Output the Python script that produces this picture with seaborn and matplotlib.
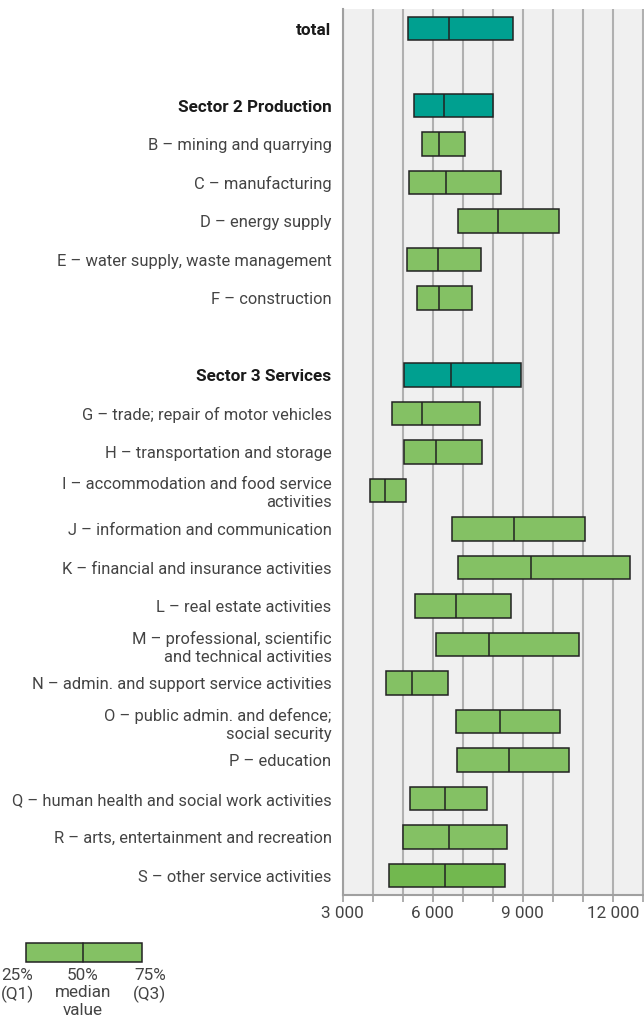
import matplotlib
matplotlib.use("Agg")
import matplotlib.pyplot as plt
from matplotlib.ticker import FixedLocator, FuncFormatter
from matplotlib.patches import Rectangle
import seaborn as sns
import pandas as pd
import numpy as np

sns.set_theme(style="white")
plt.rcParams['font.family'] = ['Roboto', 'DejaVu Sans']

# ---- data ----
categories = [
    "total",
    "Sector 2 Production",
    "B – mining and quarrying",
    "C – manufacturing",
    "D – energy supply",
    "E – water supply, waste management",
    "F – construction",
    "Sector 3 Services",
    "G – trade; repair of motor vehicles",
    "H – transportation and storage",
    "I – accommodation and food service\nactivities",
    "J – information and communication",
    "K – financial and insurance activities",
    "L – real estate activities",
    "M – professional, scientific\nand technical activities",
    "N – admin. and support service activities",
    "O – public admin. and defence;\nsocial security",
    "P – education",
    "Q – human health and social work activities",
    "R – arts, entertainment and recreation",
    "S – other service activities",
]
q1 = [5160, 5370, 5630, 5220, 6850, 5150, 5470, 5050, 4630, 5050, 3910, 6650,
      6850, 5410, 6100, 4430, 6790, 6810, 5240, 5000, 4530]
median = [6530, 6390, 6220, 6440, 8190, 6180, 6220, 6620, 5630, 6100, 4420, 8710,
          9270, 6770, 7870, 5320, 8250, 8550, 6400, 6550, 6400]
q3 = [8670, 8000, 7090, 8290, 10200, 7600, 7320, 8930, 7590, 7630, 5100, 11090,
      12570, 8600, 10870, 6520, 10250, 10550, 7820, 8490, 8400]
headers = ["total", "Sector 2 Production", "Sector 3 Services"]
x_ticks = [3000, 6000, 9000, 12000]

# slot order with blank gap rows
order = (["total", " "] + categories[1:7] + ["  "] + categories[7:])

TEAL = "#00a090"
GREEN = "#84c164"
GREEN_S = "#72b84f"
FS = 11.9

rows = []
for c, a, m, b in zip(categories, q1, median, q3):
    for v in (a, a, m, b, b):
        rows.append({"cat": c, "value": v})
df = pd.DataFrame(rows)

palette = {c: (TEAL if c in headers else GREEN) for c in categories}
palette["S – other service activities"] = GREEN_S

fig = plt.figure(figsize=(6.44, 10.28), dpi=100)
ax = fig.add_axes([342.7 / 644, 1 - 895 / 1028, 1 - 342.7 / 644, (895 - 9.3) / 1028])
ax.set_facecolor("#f0f0f0")

sns.boxplot(data=df, x="value", y="cat", hue="cat", order=order, palette=palette,
            legend=False, orient="h", width=0.61, whis=0, showcaps=False,
            showfliers=False, linecolor="#222222", linewidth=1.1,
            saturation=1, ax=ax, zorder=3)

ax.set_xlim(3000, 13043)
ax.set_ylim(len(order) - 0.5, -0.5)
ax.xaxis.set_major_locator(FixedLocator(x_ticks))
ax.xaxis.set_minor_locator(FixedLocator(np.arange(3000, 13001, 1000)))
ax.xaxis.set_major_formatter(FuncFormatter(lambda v, p: f"{int(v):,}".replace(",", " ")))
ax.grid(True, axis="x", which="both", color="#b0b0b0", linewidth=1.5, zorder=0)
ax.set_axisbelow(True)
ax.set_xlabel("")
ax.set_ylabel("")

for s in ["top", "right"]:
    ax.spines[s].set_visible(False)
for s in ["left", "bottom"]:
    ax.spines[s].set_color("#a0a0a0")
    ax.spines[s].set_linewidth(1.5)

ax.tick_params(axis="x", which="both", length=5, width=1.2, color="#a0a0a0",
               labelsize=FS + 0.4, labelcolor="#444444", pad=3, bottom=True)
ax.tick_params(axis="y", length=0, pad=8, labelsize=FS, labelcolor="#444444")
for lbl in ax.get_yticklabels():
    lbl.set_horizontalalignment("right")
    lbl.set_linespacing(1.25)
    if lbl.get_text() in headers:
        lbl.set_fontweight("bold")
        lbl.set_color("#1a1a1a")
        lbl.set_fontsize(FS + 0.4)
    else:
        lbl.set_fontweight("normal")
for lbl in ax.get_xticklabels():
    lbl.set_fontweight("normal")

# ---- legend explanation ----
lx0, lx1, lmed = 26, 142, 83.3
ly0, ly1 = 942.5, 961.7
W, H = 644, 1028
fig.patches.append(Rectangle((lx0 / W, 1 - ly1 / H), (lx1 - lx0) / W, (ly1 - ly0) / H,
                             transform=fig.transFigure, facecolor=GREEN,
                             edgecolor="#222222", linewidth=1.1))
fig.lines.append(plt.Line2D([lmed / W, lmed / W], [1 - ly1 / H, 1 - ly0 / H],
                            transform=fig.transFigure, color="#222222", linewidth=1.1))
kw = dict(ha="center", va="top", fontsize=FS + 0.4, color="#444444",
          fontweight="normal", linespacing=1.2)
fig.text(17 / W, 1 - 968 / H, "25%\n(Q1)", **kw)
fig.text(83 / W, 1 - 968 / H, "50%\nmedian\nvalue", **kw)
fig.text(150 / W, 1 - 968 / H, "75%\n(Q3)", **kw)

fig.savefig("out.png", dpi=100)
